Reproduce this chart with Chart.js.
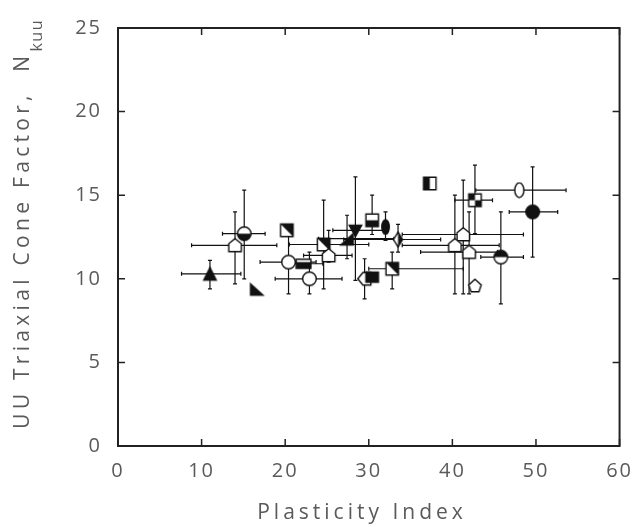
<!DOCTYPE html>
<html>
<head>
<meta charset="utf-8">
<script src="https://cdn.jsdelivr.net/npm/chart.js@4/dist/chart.umd.min.js"></script>
<style>
  html, body { margin: 0; padding: 0; background: #fff; }
</style>
</head>
<body>
<canvas id="c" width="644" height="527"></canvas>
<script>
// Plasticity index vs. UU triaxial cone factor, one marker per clay site
const plasticityIndex = [11.0, 14.0, 15.1, 16.6, 20.2, 20.4, 22.2, 22.9, 24.6, 25.2, 28.4, 27.4, 30.4, 32.0,
                         33.5, 29.5, 30.4, 32.8, 37.3, 42.7, 48.0, 49.6, 41.3, 40.3, 42.0, 45.8, 42.7];
const coneFactor      = [10.3, 12.0, 12.7, 9.4, 12.9, 11.0, 10.9, 10.0, 12.05, 11.4, 12.9, 12.4, 13.5, 13.1,
                         12.35, 10.0, 10.1, 10.6, 15.7, 14.7, 15.3, 14.0, 12.65, 12.0, 11.6, 11.3, 9.6];
// ranges (null where no bar is drawn)
const piLow  = [7.6, 8.8, 12.5, null, null, 17.0, 20.0, 18.8, 20.5, 22.2, 25.7, 24.0, null, null,
                27.0, null, null, 30.0, null, 40.3, 42.8, 46.8, 34.0, 34.0, 36.2, 43.4, null];
const piHigh = [14.7, 19.0, 17.6, null, null, 23.7, 24.5, 26.8, 30.0, 28.0, 31.9, 33.0, null, null,
                38.6, null, null, 41.3, null, 44.8, 53.6, 52.6, 48.5, 45.6, 45.4, 48.5, null];
const nkLow  = [9.4, 9.7, 10.0, null, null, 9.1, null, 9.1, 9.4, 11.0, 9.9, 11.2, 12.65, 12.3,
                11.6, 8.8, null, 9.4, null, 12.7, null, 11.3, 9.1, 9.1, 9.1, 8.5, null];
const nkHigh = [11.1, 14.0, 15.3, null, null, 12.9, null, 11.6, 14.7, 12.9, 16.1, 13.8, 15.0, 14.0,
                13.25, 11.2, null, 11.6, null, 16.8, null, 16.7, 15.9, 15.0, 14.0, 14.0, null];
const symbols = ['triUp', 'house', 'circBottom', 'wedgeLeft', 'squareDiag', 'circle', 'rectHalf', 'circle',
                 'squareDiag', 'house', 'triDown', 'wedgeRight', 'squareHoriz', 'ellipseFill', 'diamondHalf',
                 'pentLeft', 'squareFill', 'squareDiag', 'squareLeft', 'checker', 'ellipseOpen', 'circleFill',
                 'house', 'house', 'house', 'circTop', 'houseTall'];
const xTicks = [0, 10, 20, 30, 40, 50, 60];
const yTicks = [0, 5, 10, 15, 20, 25];

const INK = '#111';
const TEXT = '#5a5a5a';

// small canvas glyphs used as point styles (drawn on a 15-unit grid, scaled up)
function makeSymbol(kind) {
  const size = 17, c = document.createElement('canvas');
  c.width = size; c.height = size;
  const g = c.getContext('2d');
  g.scale(size / 15, size / 15);
  g.lineWidth = 1.25; g.strokeStyle = INK; g.fillStyle = INK;
  const m = 7.5;
  const path = (pts) => { g.beginPath(); g.moveTo(pts[0][0], pts[0][1]); for (let i = 1; i < pts.length; i++) g.lineTo(pts[i][0], pts[i][1]); g.closePath(); };
  const white = () => { g.save(); g.fillStyle = '#fff'; g.fill(); g.restore(); };
  switch (kind) {
    case 'triUp': path([[m, 2], [13, 13], [2, 13]]); g.fill(); g.stroke(); break;
    case 'triDown': path([[2, 3], [13, 3], [m, 13]]); g.fill(); g.stroke(); break;
    case 'wedgeLeft': path([[2, 3], [13, 13], [2, 13]]); g.fill(); g.stroke(); break;
    case 'wedgeRight': path([[13, 3], [13, 13], [2, 13]]); g.fill(); g.stroke(); break;
    case 'circle': g.beginPath(); g.arc(m, m, 6, 0, Math.PI * 2); white(); g.stroke(); break;
    case 'circleFill': g.beginPath(); g.arc(m, m, 6, 0, Math.PI * 2); g.fill(); g.stroke(); break;
    case 'circBottom':
      g.beginPath(); g.arc(m, m, 6, 0, Math.PI * 2); white();
      g.beginPath(); g.arc(m, m, 6, 0, Math.PI); g.closePath(); g.fill();
      g.beginPath(); g.arc(m, m, 6, 0, Math.PI * 2); g.stroke(); break;
    case 'circTop':
      g.beginPath(); g.arc(m, m, 6, 0, Math.PI * 2); white();
      g.beginPath(); g.arc(m, m, 6, Math.PI, Math.PI * 2); g.closePath(); g.fill();
      g.beginPath(); g.arc(m, m, 6, 0, Math.PI * 2); g.stroke(); break;
    case 'house': path([[m, 1.5], [13, 6], [13, 13], [2, 13], [2, 6]]); white(); g.stroke(); break;
    case 'houseTall': path([[m, 2], [13, 7], [11, 13], [4, 13], [2, 7]]); white(); g.stroke(); break;
    case 'pentLeft': path([[1.5, m], [6, 2], [13, 2], [13, 13], [6, 13]]); white(); g.stroke(); break;
    case 'squareDiag':
      path([[2, 2], [13, 2], [13, 13], [2, 13]]); white();
      path([[2, 2], [13, 2], [13, 13]]); g.fill();
      path([[2, 2], [13, 2], [13, 13], [2, 13]]); g.stroke(); break;
    case 'squareHoriz':
      path([[2, 2], [13, 2], [13, 13], [2, 13]]); white();
      g.fillRect(2, m, 11, 13 - m);
      g.stroke(); break;
    case 'squareLeft':
      path([[2, 2], [13, 2], [13, 13], [2, 13]]); white();
      g.fillRect(2, 2, m - 2, 11);
      g.stroke(); break;
    case 'squareFill': path([[2, 3], [13, 3], [13, 12], [2, 12]]); g.fill(); g.stroke(); break;
    case 'rectHalf':
      path([[1, 3.5], [14, 3.5], [14, 11.5], [1, 11.5]]); white();
      g.fillRect(1, 6, 13, 5.5); g.stroke(); break;
    case 'checker':
      path([[2, 2], [13, 2], [13, 13], [2, 13]]); white();
      g.fillRect(2, 2, m - 2, m - 2); g.fillRect(m, m, 13 - m, 13 - m);
      g.stroke(); break;
    case 'ellipseFill': g.beginPath(); g.ellipse(m, m, 3.3, 6.5, 0, 0, Math.PI * 2); g.fill(); g.stroke(); break;
    case 'ellipseOpen': g.beginPath(); g.ellipse(m, m, 4, 6.5, 0, 0, Math.PI * 2); white(); g.stroke(); break;
    case 'diamondHalf':
      path([[m, 1], [11.5, m], [m, 14], [3.5, m]]); white();
      path([[m, 1], [11.5, m], [m, 14]]); g.fill();
      path([[m, 1], [11.5, m], [m, 14], [3.5, m]]); g.stroke(); break;
  }
  return c;
}

const points = plasticityIndex.map((x, i) => ({ x, y: coneFactor[i] }));
const glyphs = symbols.map(makeSymbol);

// error bars and frame with inward ticks
const errorBars = {
  id: 'errorBars',
  beforeDatasetsDraw(chart) {
    const { ctx, scales: { x, y } } = chart;
    ctx.save();
    ctx.strokeStyle = INK; ctx.lineWidth = 1.2;
    const cap = 2;
    plasticityIndex.forEach((pi, i) => {
      const px = x.getPixelForValue(pi), py = y.getPixelForValue(coneFactor[i]);
      if (piLow[i] !== null) {
        const a = x.getPixelForValue(piLow[i]), b = x.getPixelForValue(piHigh[i]);
        ctx.beginPath(); ctx.moveTo(a, py); ctx.lineTo(b, py);
        ctx.moveTo(a, py - cap); ctx.lineTo(a, py + cap);
        ctx.moveTo(b, py - cap); ctx.lineTo(b, py + cap); ctx.stroke();
      }
      if (nkLow[i] !== null) {
        const a = y.getPixelForValue(nkLow[i]), b = y.getPixelForValue(nkHigh[i]);
        ctx.beginPath(); ctx.moveTo(px, a); ctx.lineTo(px, b);
        ctx.moveTo(px - cap, a); ctx.lineTo(px + cap, a);
        ctx.moveTo(px - cap, b); ctx.lineTo(px + cap, b); ctx.stroke();
      }
    });
    // frame
    const area = chart.chartArea;
    ctx.lineWidth = 2; ctx.strokeStyle = '#222';
    ctx.strokeRect(area.left, area.top, area.right - area.left, area.bottom - area.top);
    ctx.lineWidth = 1.5;
    const t = 7;
    xTicks.forEach(v => {
      const p = x.getPixelForValue(v);
      ctx.beginPath(); ctx.moveTo(p, area.bottom); ctx.lineTo(p, area.bottom - t);
      ctx.moveTo(p, area.top); ctx.lineTo(p, area.top + t); ctx.stroke();
    });
    yTicks.forEach(v => {
      const p = y.getPixelForValue(v);
      ctx.beginPath(); ctx.moveTo(area.left, p); ctx.lineTo(area.left + t, p);
      ctx.moveTo(area.right, p); ctx.lineTo(area.right - t, p); ctx.stroke();
    });
    ctx.restore();
  }
};

// axis titles: spaced x title, rotated y title with subscript
const axisTitles = {
  id: 'axisTitles',
  beforeDraw(chart) { chart.ctx.letterSpacing = '2px'; },
  afterDraw(chart) {
    const { ctx } = chart;
    ctx.save();
    ctx.fillStyle = TEXT;
    ctx.textBaseline = 'middle';

    ctx.font = '21px "Open Sans"';
    ctx.letterSpacing = '4px';
    ctx.textAlign = 'left';
    const xTitle = 'Plasticity Index';
    const wx = ctx.measureText(xTitle).width - 4;
    ctx.fillText(xTitle, 360 - wx / 2, 513);

    const main = 'UU Triaxial Cone Factor,  N';
    ctx.font = '21px "Open Sans"';
    ctx.letterSpacing = '4.3px';
    const wMain = ctx.measureText(main).width;
    ctx.font = '16px "Open Sans"';
    ctx.letterSpacing = '1.5px';
    const wSub = ctx.measureText('kuu').width;
    const total = wMain + wSub;
    const cy = 224;
    ctx.translate(23, cy);
    ctx.rotate(-Math.PI / 2);
    ctx.font = '21px "Open Sans"';
    ctx.letterSpacing = '4.3px';
    ctx.fillText(main, -total / 2, 0);
    ctx.font = '16px "Open Sans"';
    ctx.letterSpacing = '1.5px';
    ctx.fillText('kuu', -total / 2 + wMain, 14);
    ctx.restore();
  }
};

new Chart(document.getElementById('c'), {
  type: 'scatter',
  data: {
    datasets: [{
      data: points,
      pointStyle: glyphs,
      pointRadius: 8,
      pointHoverRadius: 8,
      showLine: false
    }]
  },
  options: {
    responsive: false,
    animation: false,
    devicePixelRatio: 1,
    layout: { padding: { top: 26, right: 14, left: 0, bottom: 0 } },
    plugins: { legend: { display: false }, tooltip: { enabled: false } },
    scales: {
      x: {
        type: 'linear', min: 0, max: 60,
        afterBuildTicks: s => { s.ticks = xTicks.map(v => ({ value: v })); },
        afterFit: s => { s.height = 81; },
        grid: { display: false, drawTicks: false },
        border: { display: false },
        ticks: { color: TEXT, font: { family: 'Open Sans', size: 20 }, padding: 13 }
      },
      y: {
        type: 'linear', min: 0, max: 25,
        afterBuildTicks: s => { s.ticks = yTicks.map(v => ({ value: v })); },
        afterFit: s => { s.width = 118; },
        grid: { display: false, drawTicks: false },
        border: { display: false },
        ticks: { color: TEXT, font: { family: 'Open Sans', size: 20 }, padding: 16 }
      }
    }
  },
  plugins: [errorBars, axisTitles]
});
</script>
</body>
</html>
